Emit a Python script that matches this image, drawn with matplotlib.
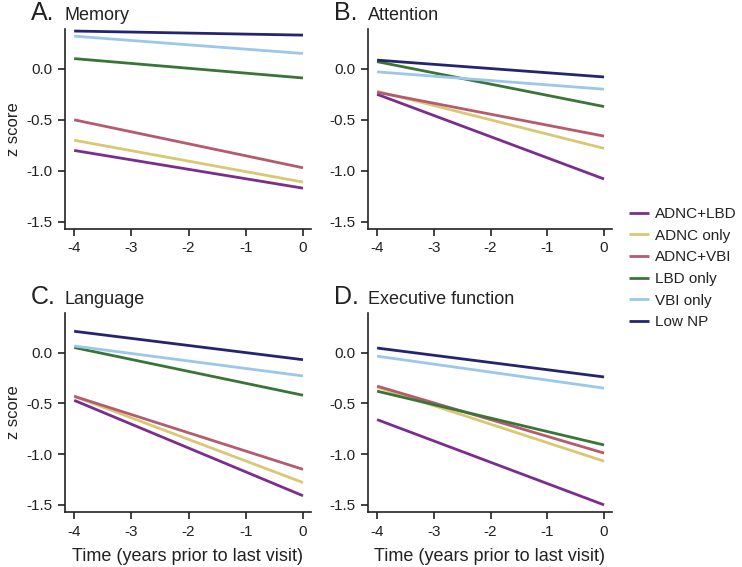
import matplotlib
matplotlib.use('Agg')
import matplotlib.pyplot as plt

plt.rcParams['font.family'] = ['Liberation Sans', 'DejaVu Sans']
plt.rcParams['axes.unicode_minus'] = False

groups = ['ADNC+LBD', 'ADNC only', 'ADNC+VBI', 'LBD only', 'VBI only', 'Low NP']
colors = ['#7B2D8E', '#D8C873', '#B45B6E', '#3A7437', '#9CC7EA', '#25246F']
years = [-4, 0]

# fitted z scores at -4 and 0 years for each group
memory = [[-0.80, -1.17], [-0.70, -1.11], [-0.50, -0.97], [0.10, -0.09], [0.32, 0.15], [0.37, 0.33]]
attention = [[-0.25, -1.08], [-0.22, -0.78], [-0.23, -0.66], [0.07, -0.37], [-0.03, -0.20], [0.085, -0.08]]
language = [[-0.47, -1.41], [-0.43, -1.28], [-0.43, -1.15], [0.05, -0.42], [0.065, -0.23], [0.21, -0.07]]
executive = [[-0.66, -1.50], [-0.34, -1.07], [-0.33, -0.99], [-0.38, -0.91], [-0.035, -0.35], [0.045, -0.24]]

panels = [('A.', 'Memory', memory), ('B.', 'Attention', attention),
          ('C.', 'Language', language), ('D.', 'Executive function', executive)]

fig = plt.figure(figsize=(7.42, 5.67), dpi=100)
W, H = 742, 567
boxes = [(65, 29, 311, 229), (368, 29, 612, 229), (65, 313, 311, 512), (368, 313, 612, 512)]

for i, (letter, name, data) in enumerate(panels):
    x0, y0, x1, y1 = boxes[i]
    ax = fig.add_axes([x0 / W, 1 - y1 / H, (x1 - x0) / W, (y1 - y0) / H])
    for vals, c, g in zip(data, colors, groups):
        ax.plot(years, vals, color=c, lw=2.0, label=g, solid_capstyle='butt')
    ax.set_xlim(-4.16, 0.14)
    ax.set_ylim(-1.57, 0.39)
    ax.set_xticks([-4, -3, -2, -1, 0])
    ax.set_yticks([0.0, -0.5, -1.0, -1.5])
    ax.set_yticklabels(['0.0', '-0.5', '-1.0', '-1.5'])
    ax.spines['top'].set_visible(False)
    ax.spines['right'].set_visible(False)
    for s in ['left', 'bottom']:
        ax.spines[s].set_linewidth(1.2)
        ax.spines[s].set_color('#222222')
    ax.tick_params(labelsize=11, length=5, width=1.2, color='#222222',
                   labelcolor='#222222', pad=4)
    ax.text(-0.14, 1.02, letter, transform=ax.transAxes, fontsize=18, va='bottom',
            ha='left', color='#222222')
    ax.text(-0.0, 1.025, name, transform=ax.transAxes, fontsize=13, va='bottom',
            ha='left', color='#222222')
    if i % 2 == 0:
        ax.set_ylabel('z score', fontsize=12, color='#222222')
    if i >= 2:
        ax.set_xlabel('Time (years prior to last visit)', fontsize=13, labelpad=7,
                      color='#222222')
    if i == 1:
        handles, labels = ax.get_legend_handles_labels()

leg = fig.legend(handles, labels, loc='upper left', bbox_to_anchor=(629 / W, 1 - 207 / H),
                 frameon=False, fontsize=11, handlelength=1.3, handletextpad=0.4,
                 labelspacing=0.5, borderpad=0, borderaxespad=0)
for t in leg.get_texts():
    t.set_color('#222222')

fig.savefig('out.png', dpi=100)
